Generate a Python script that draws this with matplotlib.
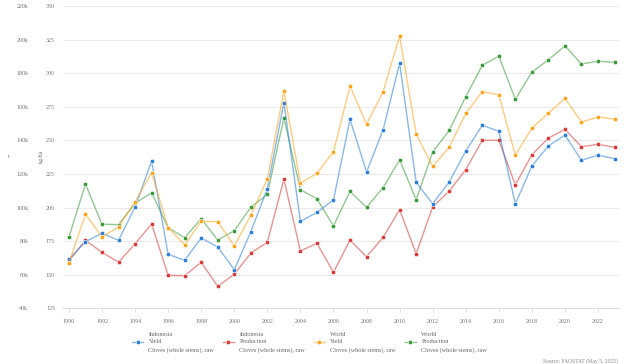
import matplotlib
matplotlib.use("Agg")
import matplotlib.pyplot as plt
from matplotlib.ticker import FuncFormatter

plt.rcParams['font.family'] = ['Liberation Serif', 'DejaVu Serif']

years = list(range(1990, 2024))

# kg/ha
indonesia_yield = [161.5, 174.6, 180.8, 175.6, 200.4, 234.4, 165.2, 160.7, 177.3, 170.6,
                   153.7, 182.0, 214.0, 278.0, 189.7, 196.4, 205.6, 265.6, 226.4, 257.7,
                   307.3, 218.7, 202.8, 219.0, 242.0, 261.2, 256.7, 202.6, 230.9, 245.8,
                   253.9, 235.1, 239.0, 236.3]
world_yield = [158.7, 195.0, 178.0, 185.5, 204.3, 225.9, 185.0, 172.3, 189.7, 189.4,
               171.4, 194.2, 221.0, 286.7, 218.2, 225.4, 241.5, 290.4, 261.9, 286.2,
               327.6, 254.7, 230.6, 244.8, 270.1, 286.2, 283.9, 239.0, 259.1, 270.1,
               281.2, 263.6, 267.3, 265.8]

# t
indonesia_prod = [68300, 80500, 73300, 67500, 78400, 90200, 59600, 59400, 67400, 53100,
                  60200, 72900, 79300, 116900, 74100, 78700, 61400, 80600, 70700, 82200,
                  98700, 72500, 100300, 109800, 122500, 140000, 140000, 113500, 131400, 141300,
                  146500, 136200, 137600, 135800]
world_prod = [82400, 114000, 90000, 89800, 102500, 108800, 88000, 82000, 93300, 80600,
              86200, 100100, 107800, 153400, 110600, 105200, 89000, 109600, 100100, 111800,
              128400, 104600, 133000, 145900, 165900, 184600, 190100, 164400, 180600, 187900,
              196200, 185400, 187100, 186400]

labels = ["Indonesia\nYield\nCloves (whole stems), raw",
          "Indonesia\nProduction\nCloves (whole stems), raw",
          "World\nYield\nCloves (whole stems), raw",
          "World\nProduction\nCloves (whole stems), raw"]
colors = ["#2b7fd8", "#d93a3a", "#ffa31a", "#3a9a3a"]

FS = 4.3
W, H = 624, 364
fig = plt.figure(figsize=(W / 100, H / 100), dpi=100)
ax = fig.add_axes([63 / W, (H - 308.3) / H, (619 - 63) / W, (308.3 - 5.9) / H])
ax2 = ax.twinx()


def draw(a, y, c, lab):
    rgb = matplotlib.colors.to_rgb(c)
    line, = a.plot(years, y, color=rgb + (0.55,), lw=1.0, marker='o', ms=3.2,
                   mfc=c, mec='white', mew=0.4, label=lab)
    return line


h_ip = draw(ax, indonesia_prod, colors[1], labels[1])
h_wp = draw(ax, world_prod, colors[3], labels[3])
h_iy = draw(ax2, indonesia_yield, colors[0], labels[0])
h_wy = draw(ax2, world_yield, colors[2], labels[2])

ax.set_xlim(1989.64, 2023.27)
ax.set_ylim(40000, 220000)
ax2.set_ylim(125, 350)
ax.set_yticks(range(40000, 220001, 20000))
ax2.set_yticks(range(125, 351, 25))
ax.yaxis.set_major_formatter(FuncFormatter(lambda v, p: f"{int(v / 1000)}k"))
ax.set_xticks(range(1990, 2023, 2))

ax.grid(axis='y', color='#ebebeb', lw=0.8)
ax.set_axisbelow(True)
for a in (ax, ax2):
    for s in a.spines.values():
        s.set_visible(False)
ax.spines['bottom'].set_visible(True)
ax.spines['bottom'].set_color('#dddddd')
ax.spines['bottom'].set_linewidth(0.8)

ax.tick_params(axis='y', length=0, pad=25, labelsize=FS, labelcolor='#777777')
ax.tick_params(axis='x', length=3, width=0.6, color='#dddddd', pad=5,
               labelsize=FS, labelcolor='#777777')
ax2.yaxis.tick_left()
ax2.tick_params(axis='y', length=0, pad=5.8, labelsize=FS, labelcolor='#777777')

fig.text(9 / W, 1 - 156 / H, "t", fontsize=FS, color='#777777', ha='center', va='center')
fig.text(41 / W, 1 - 156 / H, "kg/ha", fontsize=FS, color='#777777', ha='center',
         va='center', rotation=90)

leg = fig.legend(handles=[h_iy, h_ip, h_wy, h_wp], loc='upper left',
                 bbox_to_anchor=(132 / W, 1 - 332 / H), ncol=4, frameon=False,
                 fontsize=4.4, labelcolor='#666666', handlelength=1.8, handletextpad=0.9,
                 columnspacing=1.45, borderpad=0, borderaxespad=0)
for t in leg.get_texts():
    t.set_linespacing(1.6)

fig.text(618 / W, 1 - 361 / H, "Source: FAOSTAT (May 5, 2025)", fontsize=4.0,
         color='#888888', ha='right', va='center')

fig.savefig("out.png", dpi=100)
